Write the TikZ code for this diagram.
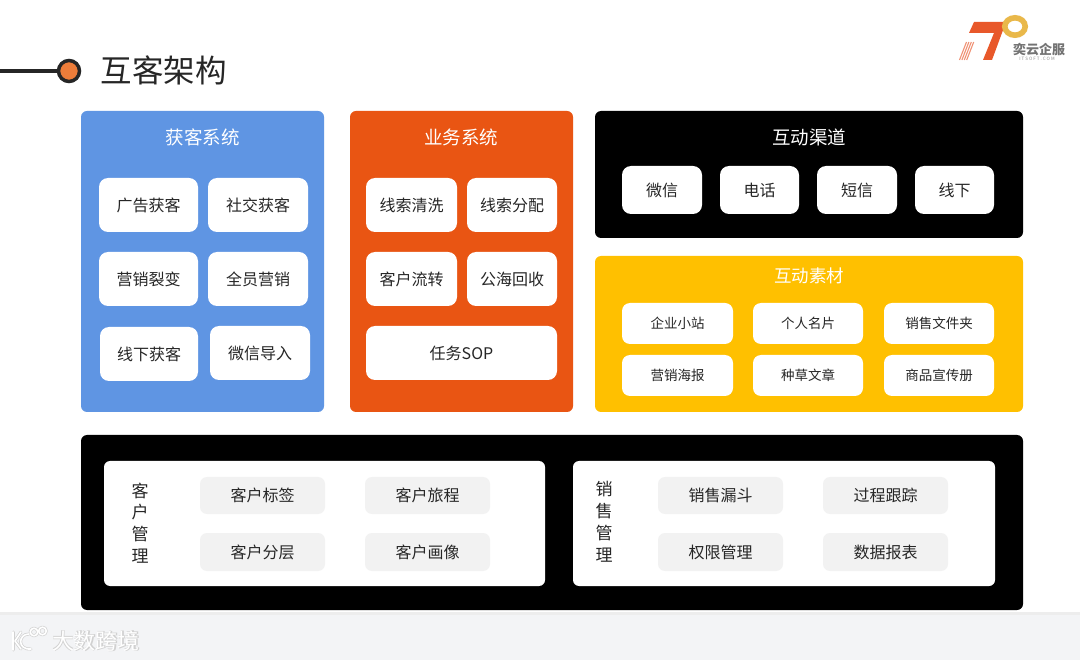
\documentclass[tikz,border=0pt]{standalone}
\usepackage{fontspec}
\setmainfont{Noto Sans CJK SC}
\definecolor{blueP}{HTML}{5F95E3}
\definecolor{orangeP}{HTML}{E95513}
\definecolor{yellowP}{HTML}{FFC000}
\definecolor{greyB}{HTML}{F2F2F2}
\definecolor{footer}{HTML}{F3F4F6}
\definecolor{ink}{HTML}{262626}
\definecolor{dot}{HTML}{ED7D3A}
\definecolor{logoO}{HTML}{E8582A}
\definecolor{logoY}{HTML}{E9B84A}
\tikzset{
  x=1pt,y=-1pt,
  panel/.style={rounded corners=6pt,inner sep=0pt,outer sep=0pt},
  wbox/.style={fill=white,rounded corners=9pt,inner sep=0pt,text=ink,font=\fontsize{16}{16}\selectfont},
  ybox/.style={wbox,rounded corners=8pt,font=\fontsize{13.5}{14}\selectfont},
  gbox/.style={fill=greyB,rounded corners=7pt,inner sep=0pt,text=ink,font=\fontsize{16}{16}\selectfont},
  ptitle/.style={text=white,inner sep=0pt,font=\fontsize{18.5}{19}\selectfont},
  vchar/.style={text=ink,inner sep=0pt,font=\fontsize{17}{17}\selectfont},
}
% #1 style, #2 name, #3 x0, #4 y0, #5 x1, #6 y1, #7 text
\newcommand{\bx}[7]{%
  \pgfmathsetmacro{\bxw}{#5-#3}\pgfmathsetmacro{\bxh}{#6-#4}%
  \pgfmathsetmacro{\bxc}{(#5+#3)/2}\pgfmathsetmacro{\bxd}{(#6+#4)/2}%
  \node[#1,minimum width=\bxw pt,minimum height=\bxh pt] (#2) at (\bxc,\bxd) {#7};}
\begin{document}
\begin{tikzpicture}
\useasboundingbox (0,0) rectangle (1080,660);
\fill[white] (0,0) rectangle (1080,660);
% footer
\fill[footer] (0,614) rectangle (1080,660);
\fill[black!7] (0,612) rectangle (1080,615);
% footer logo
\foreach \lw/\col in {3pt/black!18,1.6pt/white}{
  \begin{scope}[line width=\lw,draw=\col,line cap=round,line join=round]
    \draw (13,632) -- (13,650);
    \draw (21,632) -- (15,641) -- (21,649);
    \draw (29,634) .. controls (18,634) and (17,650) .. (31,649);
    \draw (34,632) circle[radius=3.8];
    \draw (42.5,631) circle[radius=3.8];
  \end{scope}
}
\node[text=black!18,inner sep=0pt,font=\fontsize{22}{22}\bfseries\selectfont] (wms) at (96.5,641.5) {大数跨境};
\node[text=white,inner sep=0pt,font=\fontsize{22}{22}\selectfont] (wm) at (96,641) {大数跨境};
% title
\coordinate (lineStart) at (0,71);
\node[circle,fill=dot,draw=ink,line width=3.5pt,minimum size=21pt,inner sep=0pt] (dotN) at (69,71) {};
\draw[ink,line width=3.5pt] (lineStart) -- (dotN);
\node[text=ink,inner sep=0pt,font=\fontsize{31.5}{32}\selectfont] (title) at (163.5,70) {互客架构};
% logo
\fill[logoO] (974,22) -- (1006,22) -- (992,60) -- (983,60) -- (994,33) -- (969,33) -- cycle;
\draw[logoY,line width=5.6pt] (1015,26.5) ellipse[x radius=10.2,y radius=8.7];
\foreach \i in {0,...,3}{
  \draw[logoO!65,line width=1.1pt] (966.5+\i*2.4,42) -- (959.5+\i*2.4,60);
}
\node[text=black!55,inner sep=0pt,font=\fontsize{13}{13}\bfseries\selectfont] (logoT) at (1039,50) {奕云企服};
\node[text=black!45,inner sep=0pt,font=\fontsize{4.5}{5}\selectfont] (logoS) at (1037,59) {I T S O F T . C O M};
% blue panel
\bx{panel,fill=blueP}{pBlue}{81}{111}{324}{412}{}
\node[ptitle] (tBlue) at (202.5,137) {获客系统};
\bx{wbox}{b1}{99}{178}{198}{232}{广告获客}
\bx{wbox}{b2}{208}{178}{308}{232}{社交获客}
\bx{wbox}{b3}{99}{252}{198}{306}{营销裂变}
\bx{wbox}{b4}{208}{252}{308}{306}{全员营销}
\bx{wbox}{b5}{100}{327}{198}{381}{线下获客}
\bx{wbox}{b6}{210}{326}{310}{380}{微信导入}
% orange panel
\bx{panel,fill=orangeP}{pOrange}{350}{111}{573}{412}{}
\node[ptitle] (tOrange) at (461,137) {业务系统};
\bx{wbox}{o1}{366}{178}{457}{232}{线索清洗}
\bx{wbox}{o2}{467}{178}{557}{232}{线索分配}
\bx{wbox}{o3}{366}{252}{457}{306}{客户流转}
\bx{wbox}{o4}{467}{252}{557}{306}{公海回收}
\bx{wbox}{o5}{366}{326}{557}{380}{任务SOP}
% black channels
\bx{panel,fill=black}{pChan}{595}{111}{1023}{238}{}
\node[ptitle] (tChan) at (809,137.5) {互动渠道};
\bx{wbox}{c1}{622}{166}{702}{214}{微信}
\bx{wbox}{c2}{720}{166}{799}{214}{电话}
\bx{wbox}{c3}{817}{166}{897}{214}{短信}
\bx{wbox}{c4}{915}{166}{994}{214}{线下}
% yellow panel
\bx{panel,fill=yellowP}{pYellow}{595}{256}{1023}{412}{}
\node[ptitle,font=\fontsize{17.5}{18}\selectfont] (tYellow) at (809,276) {互动素材};
\bx{ybox}{y1}{622}{303}{733}{344}{企业小站}
\bx{ybox}{y2}{753}{303}{863}{344}{个人名片}
\bx{ybox}{y3}{884}{303}{994}{344}{销售文件夹}
\bx{ybox}{y4}{622}{355}{733}{396}{营销海报}
\bx{ybox}{y5}{753}{355}{863}{396}{种草文章}
\bx{ybox}{y6}{884}{355}{994}{396}{商品宣传册}
% bottom panel
\bx{panel,fill=black}{pBottom}{81}{435}{1023}{610}{}
\bx{panel,fill=white}{wLeft}{104}{461}{545}{586}{}
\bx{panel,fill=white}{wRight}{573}{461}{995}{586}{}
\node[vchar] (v1) at (140,491) {客};
\node[vchar] (v2) at (140,512) {户};
\node[vchar] (v3) at (140,534) {管};
\node[vchar] (v4) at (140,556) {理};
\node[vchar] (v5) at (604,489) {销};
\node[vchar] (v6) at (604,511) {售};
\node[vchar] (v7) at (604,533) {管};
\node[vchar] (v8) at (604,555) {理};
\bx{gbox}{g1}{200}{477}{325}{514}{客户标签}
\bx{gbox}{g2}{365}{477}{490}{514}{客户旅程}
\bx{gbox}{g3}{200}{533}{325}{571}{客户分层}
\bx{gbox}{g4}{365}{533}{490}{571}{客户画像}
\bx{gbox}{g5}{658}{477}{783}{514}{销售漏斗}
\bx{gbox}{g6}{823}{477}{948}{514}{过程跟踪}
\bx{gbox}{g7}{658}{533}{783}{571}{权限管理}
\bx{gbox}{g8}{823}{533}{948}{571}{数据报表}
\end{tikzpicture}
\end{document}
